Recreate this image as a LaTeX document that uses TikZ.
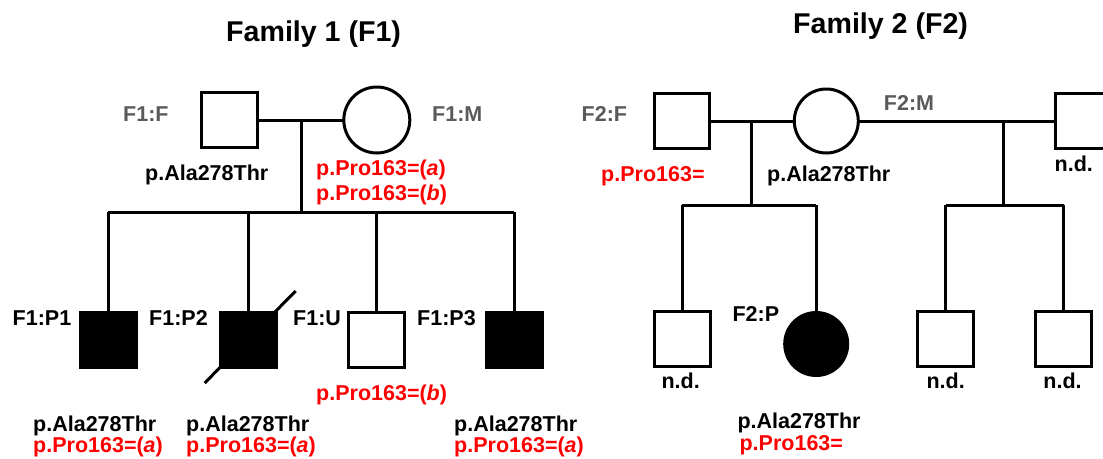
\documentclass[tikz,border=0pt]{standalone}
\usepackage{fontspec}
\usetikzlibrary{calc}
\setmainfont{Liberation Sans}
\definecolor{labgray}{HTML}{5A5A5A}
\definecolor{pred}{HTML}{FF0000}
\begin{document}
\begin{tikzpicture}[x=1pt,y=-1pt,
  conn/.style={line width=3pt},
  sq/.style={draw,line width=3pt,minimum size=55.5pt,inner sep=0pt,outer sep=0pt,fill=white},
  sqa/.style={sq,fill=black},
  circ/.style={draw,circle,line width=3pt,minimum size=#1,inner sep=0pt,outer sep=0pt,fill=white},
  circa/.style={circ=#1,fill=black},
  lab/.style={font=\fontsize{21.5}{24}\selectfont\bfseries,inner sep=0pt,anchor=base west},
  glab/.style={lab,text=labgray},
  rlab/.style={lab,text=pred},
  ttl/.style={font=\fontsize{28.6}{32}\selectfont\bfseries,inner sep=0pt,anchor=base west}
]
\useasboundingbox (0,0) rectangle (1103,458);
\clip (0,0) rectangle (1103,458);

% ---------------- Family 1 ----------------
\node[ttl] (t1) at (226,41.5) {Family 1 (F1)};

\node[sq] (f1f) at (229.5,120) {};
\node[circ=66pt] (f1m) at (376.8,120) {};
\coordinate (m1) at (301,120);
\coordinate (s1) at (301,212);

\node[sqa] (f1p1) at (108.4,340) {};
\node[sqa] (f1p2) at (248.7,340) {};
\node[sq]  (f1u)  at (376.7,340) {};
\node[sqa] (f1p3) at (514.3,340) {};

\draw[conn] (f1f) -- (f1m);
\draw[conn] (m1) -- (s1);
\draw[conn] (f1p1.north |- s1) -- (f1p3.north |- s1);
\foreach \c in {f1p1,f1p2,f1u,f1p3}
  \draw[conn] (\c.north |- s1) -- (\c.north);
\draw[line width=3pt] ($(f1p2.center)+(-44,43)$) -- ($(f1p2.center)+(47,-49)$);

\node[glab] (l1f) at (123,121.7) {F1:F};
\node[glab] (l1m) at (432,121.7) {F1:M};
\node[lab] (g1f) at (145,180) {p.Ala278Thr};
\node[rlab] (r1ma) at (316,175) {p.Pro163=(\textit{a})};
\node[rlab] (r1mb) at (316,200) {p.Pro163=(\textit{b})};

\node[lab] (l1p1) at (12.5,325) {F1:P1};
\node[lab] (l1p2) at (149,325) {F1:P2};
\node[lab] (l1u)  at (293,325) {F1:U};
\node[lab] (l1p3) at (417,325) {F1:P3};
\node[rlab] (r1u) at (316,400) {p.Pro163=(\textit{b})};

\node[lab] (g1p1) at (33,431.5) {p.Ala278Thr};
\node[rlab] (r1p1) at (33,452.5) {p.Pro163=(\textit{a})};
\node[lab] (g1p2) at (186,431.5) {p.Ala278Thr};
\node[rlab] (r1p2) at (186,452.5) {p.Pro163=(\textit{a})};
\node[lab] (g1p3) at (454,431.5) {p.Ala278Thr};
\node[rlab] (r1p3) at (454,452.5) {p.Pro163=(\textit{a})};

% ---------------- Family 2 ----------------
\node[ttl] (t2) at (793,33) {Family 2 (F2)};

\node[sq] (f2f) at (682,121) {};
\node[circ=64pt] (f2m) at (826.3,121) {};
\node[sq] (f2x) at (1083,121) {};
\coordinate (m2a) at (751.5,121);
\coordinate (s2a) at (751.5,205);
\coordinate (m2b) at (1003.2,121);
\coordinate (s2b) at (1003.2,205);

\node[sq] (f2c1) at (682.3,339) {};
\node[circa=63pt] (f2p) at (816.2,344) {};
\node[sq] (f2c3) at (945.7,339) {};
\node[sq] (f2c4) at (1063.5,339) {};

\draw[conn] (f2f) -- (f2m);
\draw[conn] (f2m) -- (f2x);
\draw[conn] (m2a) -- (s2a);
\draw[conn] (m2b) -- (s2b);
\draw[conn] (f2c1.north |- s2a) -- (f2p.north |- s2a);
\draw[conn] (f2c3.north |- s2b) -- (f2c4.north |- s2b);
\foreach \c in {f2c1,f2p}
  \draw[conn] (\c.north |- s2a) -- (\c.north);
\foreach \c in {f2c3,f2c4}
  \draw[conn] (\c.north |- s2b) -- (\c.north);

\node[glab] (l2f) at (581.5,121.7) {F2:F};
\node[glab] (l2m) at (883.7,110) {F2:M};
\node[rlab] (r2f) at (601,181.7) {p.Pro163=};
\node[lab] (g2m) at (767,181.7) {p.Ala278Thr};
\node[lab] (n2x) at (1054.5,171.7) {n.d.};

\node[lab] (l2p) at (732.4,321.7) {F2:P};
\node[lab,anchor=base] (n2c1) at (680.7,388) {n.d.};
\node[lab,anchor=base] (n2c3) at (945.7,388) {n.d.};
\node[lab,anchor=base] (n2c4) at (1062.5,388) {n.d.};
\node[lab] (g2p) at (737.3,428.3) {p.Ala278Thr};
\node[rlab] (r2p) at (739.4,450.7) {p.Pro163=};
\end{tikzpicture}
\end{document}
